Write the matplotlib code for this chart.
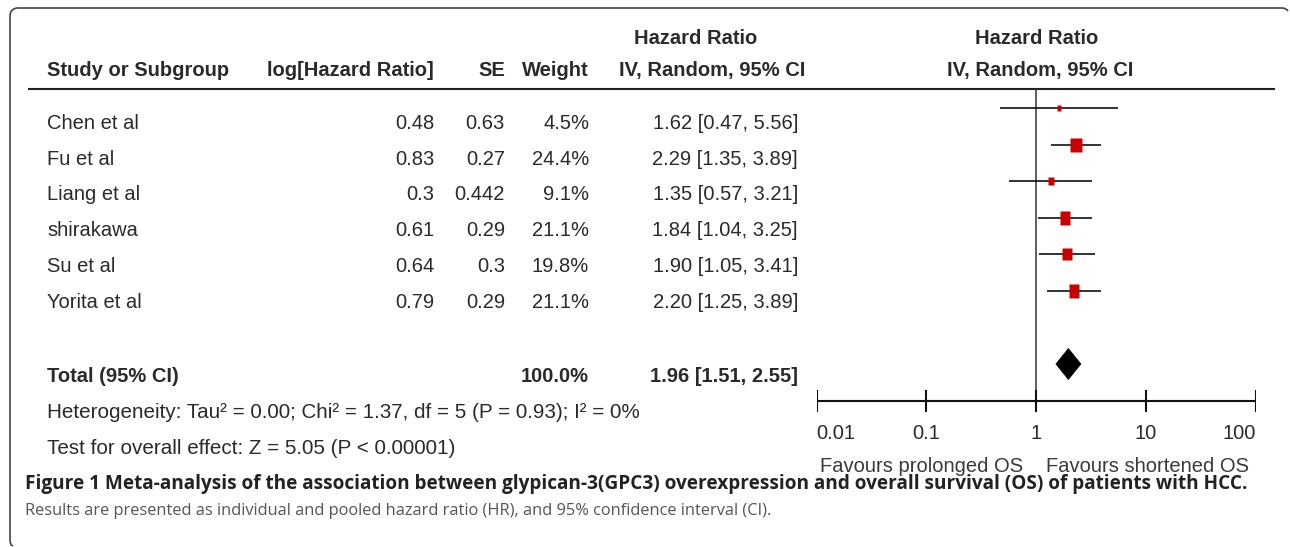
import matplotlib
matplotlib.use('Agg')
import matplotlib.pyplot as plt
from matplotlib.path import Path
from matplotlib.patches import PathPatch, Polygon

# ---------------- data ----------------
studies = ["Chen et al", "Fu et al", "Liang et al", "shirakawa", "Su et al", "Yorita et al"]
log_hr = [0.48, 0.83, 0.3, 0.61, 0.64, 0.79]
se = [0.63, 0.27, 0.442, 0.29, 0.3, 0.29]
weights = [4.5, 24.4, 9.1, 21.1, 19.8, 21.1]
hr = [1.62, 2.29, 1.35, 1.84, 1.90, 2.20]
ci_low = [0.47, 1.35, 0.57, 1.04, 1.05, 1.25]
ci_high = [5.56, 3.89, 3.21, 3.25, 3.41, 3.89]
total_weight = 100.0
total_hr = 1.96
total_low = 1.51
total_high = 2.55
xticks = [0.01, 0.1, 1, 10, 100]
xtick_labels = ["0.01", "0.1", "1", "10", "100"]
heterogeneity = "Heterogeneity: Tau² = 0.00; Chi² = 1.37, df = 5 (P = 0.93); I² = 0%"
overall = "Test for overall effect: Z = 5.05 (P < 0.00001)"
favours = ["Favours prolonged OS", "Favours shortened OS"]
caption1 = ("Figure 1 Meta-analysis of the association between glypican-3(GPC3) "
            "overexpression and overall survival (OS) of patients with HCC.")
caption2 = ("Results are presented as individual and pooled hazard ratio (HR), "
            "and 95% confidence interval (CI).")

# ---------------- layout ----------------
W, H = 1290, 547
fig = plt.figure(figsize=(W / 100, H / 100), dpi=100)
ax = fig.add_axes([0, 0, 1, 1])
ax.set_xlim(0, W)
ax.set_ylim(H, 0)
ax.axis('off')

FONT = ['Liberation Sans', 'DejaVu Sans']
CAPFONT = ['Open Sans', 'DejaVu Sans']
FS = 14.5
TC = '#2a2a2a'

def t(x, y, s, ha='left', bold=False, color=TC, size=FS, family=FONT):
    return ax.text(x, y, s, ha=ha, va='baseline', fontsize=size,
                   fontweight='bold' if bold else 'normal', color=color,
                   family=family)

# border (rounded top-left / bottom-left, top line)
verts = [(13, 546), (10, 545), (10, 540), (10, 16), (10, 9), (17, 8),
         (1282, 8), (1286, 8), (1288, 11)]
codes = [Path.MOVETO, Path.CURVE3, Path.CURVE3, Path.LINETO, Path.CURVE3, Path.CURVE3,
         Path.LINETO, Path.CURVE3, Path.CURVE3]
ax.add_patch(PathPatch(Path(verts, codes), fill=False, lw=1.2, ec='#444444'))

# headers
t(696, 44, "Hazard Ratio", ha='center', bold=True)
t(1037, 44, "Hazard Ratio", ha='center', bold=True)
t(47, 76, "Study or Subgroup", bold=True)
t(434, 76, "log[Hazard Ratio]", ha='right', bold=True)
t(505, 76, "SE", ha='right', bold=True)
t(589, 76, "Weight", ha='right', bold=True)
t(712, 76, "IV, Random, 95% CI", ha='center', bold=True)
t(1040, 76, "IV, Random, 95% CI", ha='center', bold=True)
ax.plot([28, 1275], [89, 89], color='#222222', lw=1.5, solid_capstyle='butt')

# study rows
for i, name in enumerate(studies):
    yb = 129 + 35.7 * i
    t(47, yb, name)
    t(434, yb, f"{log_hr[i]:g}", ha='right')
    t(505, yb, f"{se[i]:g}", ha='right')
    t(589, yb, f"{weights[i]:.1f}%", ha='right')
    t(798, yb, f"{hr[i]:.2f} [{ci_low[i]:.2f}, {ci_high[i]:.2f}]", ha='right')

# total row
t(47, 382, "Total (95% CI)", bold=True)
t(589, 382, f"{total_weight:.1f}%", ha='right', bold=True)
t(798, 382, f"{total_hr:.2f} [{total_low:.2f}, {total_high:.2f}]", ha='right', bold=True)
t(47, 418, heterogeneity, size=14.85)
t(47, 454, overall, size=14.85)

# ---------------- forest axes ----------------
fa = fig.add_axes([816.5 / W, 0, (1256 - 816.5) / W, 1])
fa.set_xscale('log')
fa.set_xlim(0.01, 100)
fa.set_ylim(H, 0)
fa.axis('off')

axis_y = 401
fa.plot([1, 1], [89, axis_y], color='#333333', lw=1.1)
fa.plot([xticks[0], xticks[-1]], [axis_y, axis_y], color='#111111', lw=1.5, solid_capstyle='butt')
for k, (xv, lab) in enumerate(zip(xticks, xtick_labels)):
    fa.plot([xv, xv], [391, 411], color='#111111', lw=1.5)
    ha = 'left' if k == 0 else ('right' if k == len(xticks) - 1 else 'center')
    fa.text(xv, 439, lab, ha=ha, va='baseline', fontsize=FS, color=TC, family=FONT)

fa.text(1023, 472, favours[0], transform=ax.transData, ha='right', va='baseline',
        fontsize=FS, color='#3a3a3a', family=FONT)
fa.text(1046, 472, favours[1], transform=ax.transData, ha='left', va='baseline',
        fontsize=FS, color='#3a3a3a', family=FONT)

rect = Path([(-0.4, -0.5), (0.4, -0.5), (0.4, 0.5), (-0.4, 0.5), (-0.4, -0.5)],
            [Path.MOVETO, Path.LINETO, Path.LINETO, Path.LINETO, Path.CLOSEPOLY])
for i in range(len(studies)):
    ym = 108 + 36.6 * i
    fa.plot([ci_low[i], ci_high[i]], [ym, ym], color='#111111', lw=1.2, solid_capstyle='butt')
    h_px = 2.9 * weights[i] ** 0.5
    fa.plot([hr[i]], [ym], marker=rect, markersize=h_px * 0.72,
            color='#c80000', mec='none', linestyle='none')

dy = 364
fa.add_patch(Polygon([(total_low, dy), (total_hr, dy - 15.5), (total_high, dy),
                      (total_hr, dy + 15.5)], closed=True, fc='black', ec='black', lw=0.5))

# ---------------- caption ----------------
c1 = ax.text(25, 489, caption1, ha='left', va='baseline', fontsize=13, fontweight='bold',
             color='#222222', family=CAPFONT)
c2 = ax.text(25, 515, caption2, ha='left', va='baseline', fontsize=13,
             color='#555555', family=CAPFONT)
fig.canvas.draw()
r = fig.canvas.get_renderer()
for txt, target in ((c1, 1212), (c2, 746)):
    w = txt.get_window_extent(r).width
    txt.set_fontsize(txt.get_fontsize() * target / w)

fig.savefig('out.png', dpi=100)
